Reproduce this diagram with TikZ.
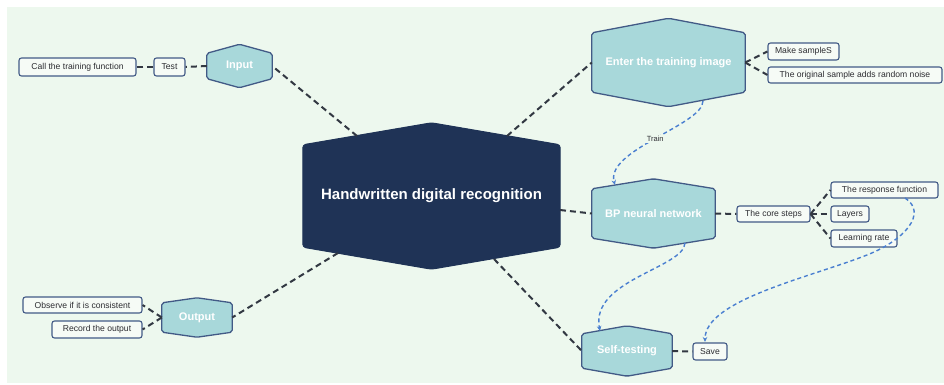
\documentclass[tikz,border=0pt]{standalone}
\usepackage{fontspec}
\setmainfont{Liberation Sans}
\usetikzlibrary{calc,arrows.meta}
\pgfdeclarelayer{back}
\pgfdeclarelayer{shapes}
\pgfsetlayers{back,shapes,main}
\definecolor{bgc}{RGB}{237,248,238}
\definecolor{hexf}{RGB}{168,216,218}
\definecolor{navyl}{RGB}{66,90,134}
\definecolor{navyd}{RGB}{31,51,86}
\definecolor{connc}{RGB}{50,56,66}
\definecolor{bluec}{RGB}{74,127,208}
\definecolor{txt}{RGB}{45,45,50}
\newcommand{\hexdraw}[3]{\begin{pgfonlayer}{shapes}\draw[#3] (#1.north west) -- ($(#1.north)+(0,-#2)$) -- (#1.north east) -- (#1.south east) -- ($(#1.south)+(0,#2)$) -- (#1.south west) -- cycle;\end{pgfonlayer}}
\tikzset{
 hexnode/.style={inner sep=0pt, text=white, font=\bfseries\fontsize{11}{13}\selectfont},
 hexlight/.style={fill=hexf, draw=navyl, line width=1.3pt, rounded corners=2pt, line join=round},
 hexdark/.style={fill=navyd, draw=navyd, line width=1pt, rounded corners=3pt, line join=round},
 leaf/.style={draw=navyl, fill=bgc!50!white, line width=1.1pt, rounded corners=2.5pt, inner sep=0pt, text=txt, font=\fontsize{8.6}{10}\selectfont},
 link/.style={draw=connc, line width=2pt, dash pattern=on 6pt off 4pt},
 flow/.style={draw=bluec, line width=1.4pt, dash pattern=on 4pt off 3pt, -{Stealth[length=5pt,width=4.5pt]}},
 trainlbl/.style={fill=bgc, inner sep=1pt, text=txt, font=\fontsize{7.5}{9}\selectfont},
}
\begin{document}
\begin{tikzpicture}[x=1pt,y=-1pt]
\useasboundingbox (0,0) rectangle (944,385);
\begin{pgfonlayer}{back}
\fill[bgc] (7,7) rectangle (944,383);
\end{pgfonlayer}
% hexagon nodes
\node[hexnode, minimum width=257pt, minimum height=102pt, font=\bfseries\fontsize{15}{17}\selectfont] (center) at (431.5,196) {Handwritten digital recognition};
\hexdraw{center}{22}{hexdark}
\node[hexnode, minimum width=65pt, minimum height=25pt] (input) at (239.5,66) {Input};
\hexdraw{input}{9}{hexlight}
\node[hexnode, minimum width=153pt, minimum height=59pt] (enter) at (668.5,62.5) {Enter the training image};
\hexdraw{enter}{14.5}{hexlight}
\node[hexnode, minimum width=123pt, minimum height=49pt] (bp) at (653.5,213.5) {BP neural network};
\hexdraw{bp}{10}{hexlight}
\node[hexnode, minimum width=90pt, minimum height=34pt] (self) at (627,351) {Self-testing};
\hexdraw{self}{8}{hexlight}
\node[hexnode, minimum width=70pt, minimum height=29pt] (output) at (197,317.5) {Output};
\hexdraw{output}{5}{hexlight}
% leaf boxes
\node[leaf, minimum width=117pt, minimum height=18pt] (call) at (77.5,67) {Call the training function};
\node[leaf, minimum width=31pt, minimum height=18pt] (test) at (169.5,67) {Test};
\node[leaf, minimum width=71pt, minimum height=17pt] (make) at (803.5,51.5) {Make sampleS};
\node[leaf, minimum width=174pt, minimum height=16pt] (orig) at (855,75) {The original sample adds random noise};
\node[leaf, minimum width=73pt, minimum height=16pt] (core) at (773.5,214) {The core steps};
\node[leaf, minimum width=107pt, minimum height=16pt] (resp) at (884.5,190) {The response function};
\node[leaf, minimum width=38pt, minimum height=16pt] (layers) at (850,214) {Layers};
\node[leaf, minimum width=66pt, minimum height=17pt] (learn) at (864,238.5) {Learning rate};
\node[leaf, minimum width=119pt, minimum height=16pt] (observe) at (82.5,305) {Observe if it is consistent};
\node[leaf, minimum width=90pt, minimum height=17pt] (record) at (97,329.5) {Record the output};
\node[leaf, minimum width=34pt, minimum height=17pt] (save) at (710,351.5) {Save};
% attachment coordinates
\coordinate (cIn) at (357,136);
\coordinate (cEn) at (507,136);
\coordinate (cBP) at (560,210);
\coordinate (cSe) at (494,259);
\coordinate (cOu) at (338,253);
\coordinate (enBot) at (703,101);
\coordinate (bpTop) at (615,185);
\coordinate (bpBot) at (685,243);
\coordinate (seTop) at (600,331);
\coordinate (rsBot) at (905,198);
\coordinate (svTop) at (705,342);
% dark connectors
\draw[link] (cIn) -- (input.east);
\draw[link] (cEn) -- (enter.west);
\draw[link] (cBP) -- (bp.west);
\draw[link] (cSe) -- (self.west);
\draw[link] (cOu) -- (output.east);
\draw[link] (input.west) -- (test.east);
\draw[link] (test.west) -- (call.east);
\draw[link] (enter.east) -- (make.west);
\draw[link] (enter.east) -- (orig.west);
\draw[link] (bp.east) -- (core.west);
\draw[link] (core.east) -- (resp.west);
\draw[link] (core.east) -- (layers.west);
\draw[link] (core.east) -- (learn.west);
\draw[link] (output.west) -- (observe.east);
\draw[link] (output.west) -- (record.east);
\draw[link] (self.east) -- (save.west);
% blue flows
\draw[flow] (enBot) .. controls (703,125) and (605,150) .. node[trainlbl, pos=0.5] (train) {Train} (bpTop);
\draw[flow] (bpBot) .. controls (684,268) and (590,280) .. (seTop);
\draw[flow] (rsBot) .. controls (928,213) and (905,240) .. (867,255) .. controls (810,277.5) and (705,300) .. (svTop);
\end{tikzpicture}
\end{document}
